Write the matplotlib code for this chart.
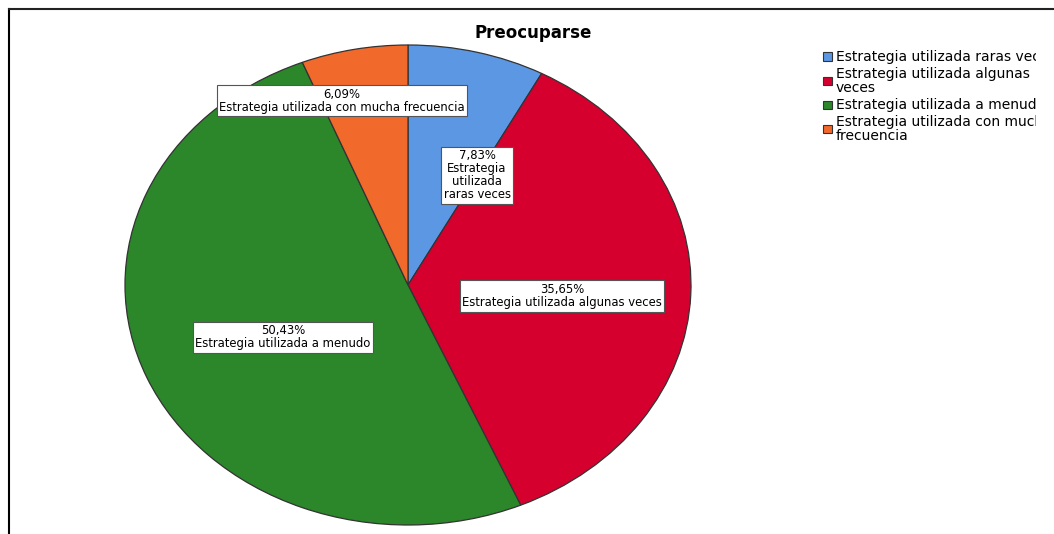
import textwrap
import matplotlib
matplotlib.use("Agg")
import matplotlib.pyplot as plt
from matplotlib.lines import Line2D
from matplotlib.patches import Rectangle
from matplotlib.transforms import Bbox, TransformedBbox

plt.rcParams["font.family"] = ["DejaVu Sans"]

# Data
title = "Preocuparse"
categories = [
    "Estrategia utilizada raras veces",
    "Estrategia utilizada algunas veces",
    "Estrategia utilizada a menudo",
    "Estrategia utilizada con mucha frecuencia",
]
percentages = [7.83, 35.65, 50.43, 6.09]
colors = ["#5B97E3", "#D6002F", "#2B872A", "#F2692C"]

# Label anchor positions in pie data units (x, y) and wrap widths
label_pos = [(0.244, 0.458), (0.544, -0.046), (-0.442, -0.217), (-0.233, 0.767)]
label_wrap = [12, 60, 60, 60]

W, H = 1054, 534
fig = plt.figure(figsize=(W / 100, H / 100), dpi=100)
fig.patch.set_facecolor("white")

# Frame lines (left and top)
fig.add_artist(Line2D([8.5 / W, 8.5 / W], [0, 1 - 8.5 / H], transform=fig.transFigure,
                      color="black", lw=1.5))
fig.add_artist(Line2D([8.5 / W, 1], [1 - 8.5 / H, 1 - 8.5 / H], transform=fig.transFigure,
                      color="#222222", lw=1.5))

# Pie axes: elliptical pie (stretched horizontally)
cx, cy, rx, ry = 408, 285, 283, 240
ax = fig.add_axes([(cx - rx) / W, (H - cy - ry) / H, 2 * rx / W, 2 * ry / H])
ax.pie(percentages, colors=colors, startangle=90, counterclock=False,
       wedgeprops=dict(edgecolor="#333333", linewidth=0.9))
ax.set_aspect("auto")
ax.set_xlim(-1, 1)
ax.set_ylim(-1, 1)
ax.axis("off")

for pct, cat, (lx, ly), wr in zip(percentages, categories, label_pos, label_wrap):
    txt = f"{pct:.2f}%".replace(".", ",") + "\n" + textwrap.fill(cat, wr)
    ax.text(lx, ly, txt, ha="center", va="center", fontsize=8.4, linespacing=1.0,
            color="black",
            bbox=dict(boxstyle="square,pad=0.22", facecolor="white",
                      edgecolor="#555555", linewidth=0.8))

fig.text(533 / W, 1 - 33 / H, title, ha="center", va="center",
         fontsize=12, fontweight="bold")

# Legend drawn as marker squares with wrapped labels, clipped to the legend area
legend_clip = TransformedBbox(Bbox([[0, 0], [1036 / W, 1]]), fig.transFigure)
legend_labels = [textwrap.fill(c, 32) for c in categories]
y0, dy = 56.5, 24.3
for i, (c, lab) in enumerate(zip(colors, legend_labels)):
    yc = y0 + i * dy
    fig.add_artist(Rectangle((823 / W, 1 - (yc + 4) / H), 9 / W, 8 / H,
                             transform=fig.transFigure, facecolor=c,
                             edgecolor="#333333", linewidth=0.8))
    t = fig.text(836 / W, 1 - yc / H, lab, ha="left", va="center", fontsize=10,
                 linespacing=1.0, color="black")
    t.set_clip_box(legend_clip)
    t.set_clip_on(True)

fig.savefig("out.png", dpi=100)
